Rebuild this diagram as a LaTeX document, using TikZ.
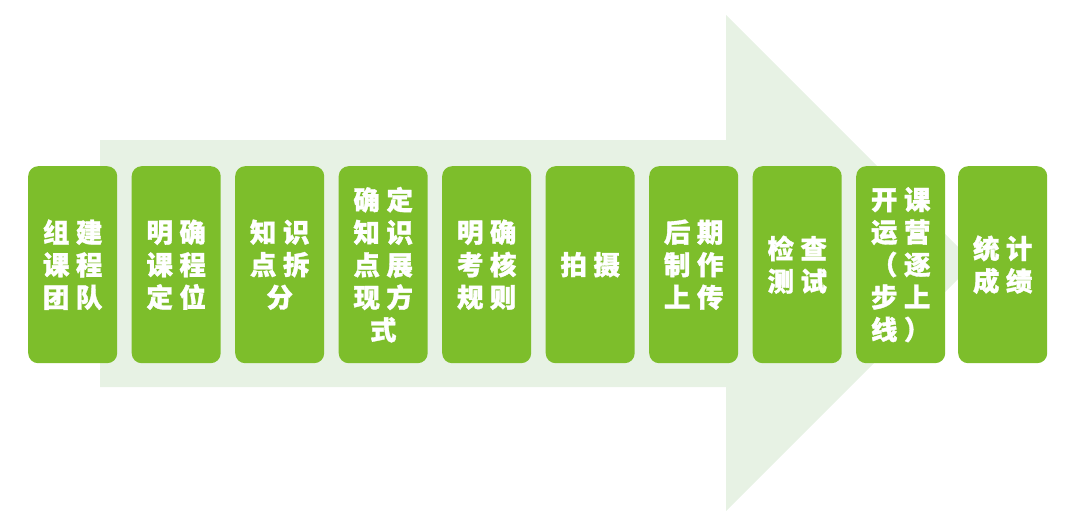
\documentclass[tikz,border=0pt]{standalone}
\usepackage{fontspec}
\newfontfamily\cjk[BoldFeatures={FakeBold=1.3}]{Noto Sans CJK SC}
\definecolor{boxgreen}{RGB}{125,190,43}
\definecolor{arrowlight}{RGB}{231,242,228}
\begin{document}
\begin{tikzpicture}[x=1pt,y=-1pt,
  stepbox/.style={fill=boxgreen, rounded corners=10pt, minimum width=89pt, minimum height=197pt,
    inner sep=0pt, anchor=north west, text=white, align=center,
    font=\cjk\bfseries\fontsize{26.5}{32.5}\selectfont}]
\useasboundingbox (0,0) rectangle (1070,524);
\fill[arrowlight] (100,140) -- (726,140) -- (726,15) -- (974,263) -- (726,511) -- (726,387) -- (100,387) -- cycle;
\newcommand{\gp}{\hspace{6.5pt}}
\node[stepbox] (b1) at (28,166) {组\gp 建\\课\gp 程\\团\gp 队};
\node[stepbox] (b2) at (131.5,166) {明\gp 确\\课\gp 程\\定\gp 位};
\node[stepbox] (b3) at (235,166) {知\gp 识\\点\gp 拆\\分};
\node[stepbox] (b4) at (338.5,166) {确\gp 定\\知\gp 识\\点\gp 展\\现\gp 方\\式};
\node[stepbox] (b5) at (442,166) {明\gp 确\\考\gp 核\\规\gp 则};
\node[stepbox] (b6) at (545.5,166) {拍\gp 摄};
\node[stepbox] (b7) at (649,166) {后\gp 期\\制\gp 作\\上\gp 传};
\node[stepbox] (b8) at (752.5,166) {检\gp 查\\测\gp 试};
\node[stepbox] (b9) at (856,166) {开\gp 课\\运\gp 营\\（\gp 逐\\步\gp 上\\线\gp ）};
\node[stepbox] (b10) at (958,166) {统\gp 计\\成\gp 绩};
\end{tikzpicture}
\end{document}
